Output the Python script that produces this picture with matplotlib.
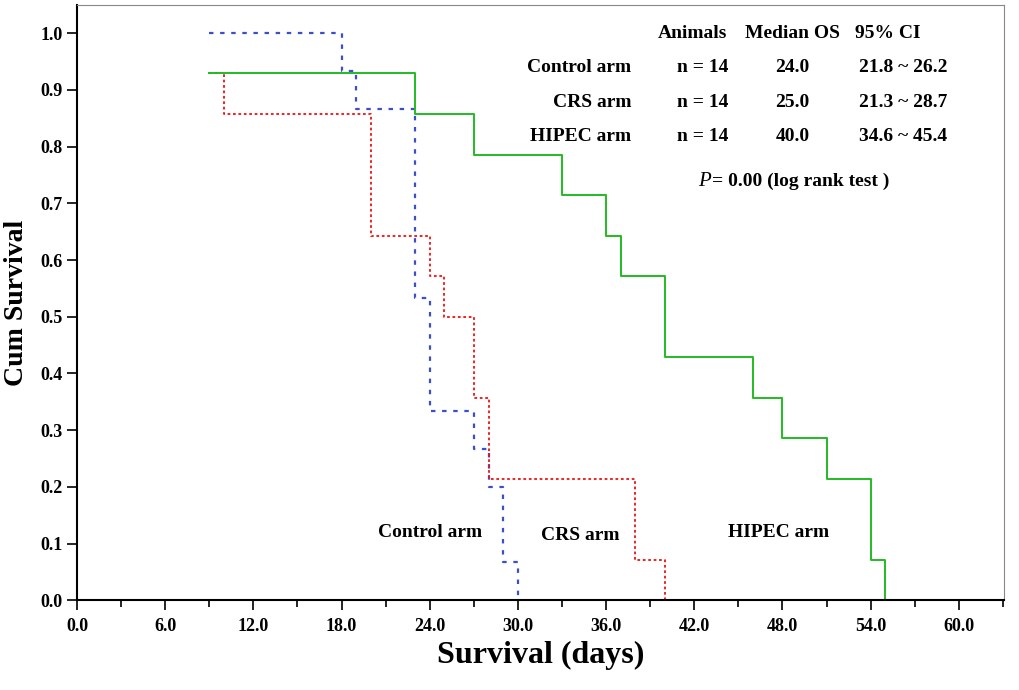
import matplotlib
matplotlib.use("Agg")
import matplotlib.pyplot as plt
from matplotlib.ticker import MultipleLocator, FormatStrFormatter

plt.rcParams["font.family"] = ["Liberation Serif", "DejaVu Serif"]
plt.rcParams["font.weight"] = "bold"

# ── 데이터 ─────────────────────────────────────
control_t = [9, 18, 19, 23, 24, 27, 28, 29, 30]
control_s = [1.0, 0.933, 0.867, 0.533, 0.333, 0.267, 0.2, 0.067, 0.0]
crs_t = [9, 10, 20, 24, 25, 27, 28, 38, 40]
crs_s = [0.929, 0.857, 0.643, 0.571, 0.5, 0.357, 0.214, 0.071, 0.0]
hipec_t = [9, 23, 27, 33, 36, 37, 40, 46, 48, 51, 54, 55]
hipec_s = [0.929, 0.857, 0.786, 0.714, 0.643, 0.571, 0.429, 0.357, 0.286, 0.214, 0.071, 0.0]

arm_names = ["Control arm", "CRS arm", "HIPEC arm"]
animals = ["n = 14", "n = 14", "n = 14"]
median_os = ["24.0", "25.0", "40.0"]
ci = ["21.8 ~ 26.2", "21.3 ~ 28.7", "34.6 ~ 45.4"]

fig = plt.figure(figsize=(10.19, 6.9), dpi=100)
ax = fig.add_axes([0.0756, 0.130, 0.910, 0.863])

ax.step(control_t, control_s, where="post", color="#3a50c8", lw=1.6,
        linestyle=(0, (2, 3)))
ax.step(crs_t, crs_s, where="post", color="#ee1111", lw=1.3,
        linestyle=(0, (1.5, 1.5)))
ax.step(hipec_t, hipec_s, where="post", color="#22bb22", lw=1.4)

ax.set_xlim(0, 63.1)
ax.set_ylim(0, 1.05)
ax.xaxis.set_major_locator(MultipleLocator(6))
ax.xaxis.set_minor_locator(MultipleLocator(3))
ax.yaxis.set_major_locator(MultipleLocator(0.1))
ax.xaxis.set_major_formatter(FormatStrFormatter("%.1f"))
ax.yaxis.set_major_formatter(FormatStrFormatter("%.1f"))
ax.tick_params(axis="both", which="major", direction="out", length=7, width=1.2, labelsize=13)
ax.tick_params(axis="x", which="minor", direction="out", length=5, width=1.2)
ax.tick_params(axis="x", pad=6)
for lab in ax.get_xticklabels() + ax.get_yticklabels():
    lab.set_fontweight("bold")
ax.spines["left"].set_linewidth(1.5)
ax.spines["bottom"].set_linewidth(1.5)
for s in ["top", "right"]:
    ax.spines[s].set_linewidth(0.8)
    ax.spines[s].set_color("#888888")

ax.set_xlabel("Survival (days)", fontsize=23, fontweight="bold", labelpad=4)
ax.set_ylabel("Cum Survival", fontsize=20, fontweight="bold", labelpad=8)

# 표
hdr_y = 1.0
fs = 14
ax.text(41.9, hdr_y, "Animals", ha="center", va="center", fontsize=fs)
ax.text(48.7, hdr_y, "Median OS", ha="center", va="center", fontsize=fs)
ax.text(55.2, hdr_y, "95% CI", ha="center", va="center", fontsize=fs)
for i, y in enumerate([0.94, 0.877, 0.817]):
    ax.text(37.7, y, arm_names[i], ha="right", va="center", fontsize=fs)
    ax.text(42.6, y, animals[i], ha="center", va="center", fontsize=fs)
    ax.text(48.7, y, median_os[i], ha="center", va="center", fontsize=fs)
    ax.text(56.2, y, ci[i], ha="center", va="center", fontsize=fs)
ax.text(43.1, 0.738, "P", ha="right", va="center", fontsize=fs + 1,
        fontstyle="italic", fontweight="normal")
ax.text(43.2, 0.738, "= 0.00 (log rank test )", ha="left", va="center", fontsize=fs)

# 곡선 라벨
ax.text(20.5, 0.12, "Control arm", ha="left", va="center", fontsize=fs)
ax.text(31.6, 0.115, "CRS arm", ha="left", va="center", fontsize=fs)
ax.text(44.3, 0.12, "HIPEC arm", ha="left", va="center", fontsize=fs)

plt.savefig("out.png", dpi=100)
